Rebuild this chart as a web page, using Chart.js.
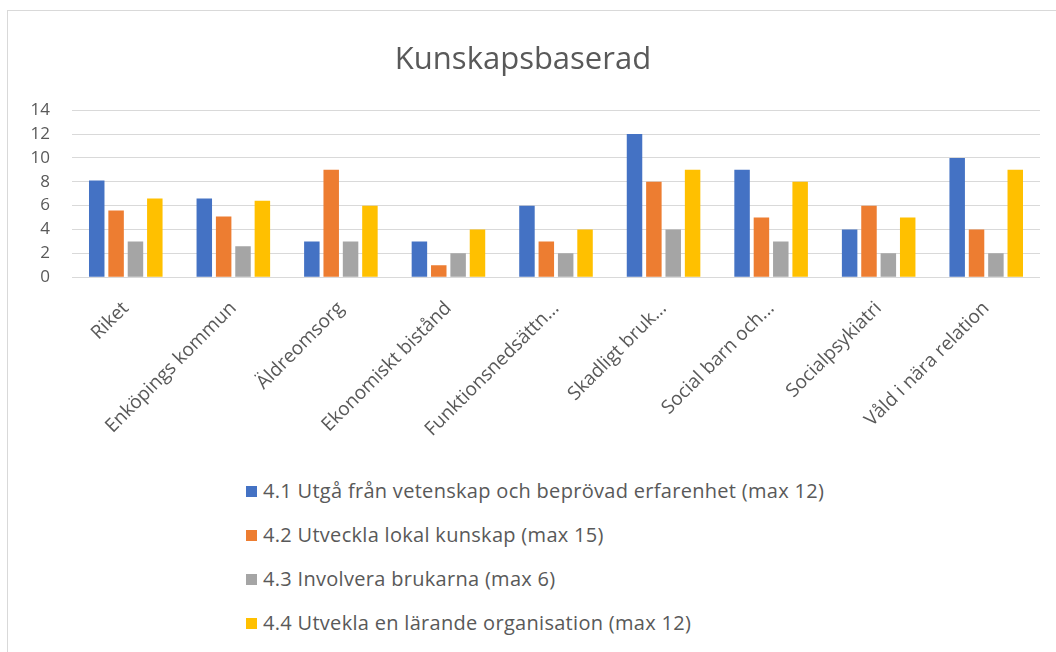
<!DOCTYPE html>
<html lang="sv">
<head>
<meta charset="UTF-8">
<title>Kunskapsbaserad</title>
<script src="https://cdn.jsdelivr.net/npm/chart.js"></script>
<style>
body {
  margin:0;
  background:#fff;
  font-family:"Open Sans", Arial, sans-serif;
}
#frame {
  position:absolute;
  left:7px; top:10px;
  width:1100px; height:700px;
  border:1px solid #d9d9d9;
}
#wrap {
  position:absolute;
  left:0; top:0;
  width:1056px; height:460px;
}
#legend {
  position:absolute;
  left:246px; top:477px;
  color:#595959;
  font-size:20px;
  letter-spacing:0.3px;
}
#legend div {
  height:44px;
  line-height:28px;
}
#legend span.box {
  display:inline-block;
  width:11px; height:11px;
  margin-right:6px;
  vertical-align:1px;
}
</style>
</head>
<body>

<div id="frame"></div>
<div id="wrap"><canvas id="myChart"></canvas></div>
<div id="legend"></div>

<script>
// data
const categories = ["Riket", "Enköpings kommun", "Äldreomsorg", "Ekonomiskt bistånd",
  "Funktionsnedsättn...", "Skadligt bruk...", "Social barn och...", "Socialpsykiatri",
  "Våld i nära relation"];
const seriesNames = [
  "4.1 Utgå från vetenskap och beprövad erfarenhet (max 12)",
  "4.2 Utveckla lokal kunskap (max 15)",
  "4.3 Involvera brukarna (max 6)",
  "4.4 Utvekla en lärande organisation (max 12)"
];
const utga = [8.1, 6.6, 3, 3, 6, 12, 9, 4, 10];
const lokal = [5.6, 5.1, 9, 1, 3, 8, 5, 6, 4];
const involvera = [3, 2.6, 3, 2, 2, 4, 3, 2, 2];
const larande = [6.6, 6.4, 6, 4, 4, 9, 8, 5, 9];
const yTicks = [0, 2, 4, 6, 8, 10, 12, 14];
const colors = ["#4472c4", "#ed7d31", "#a5a5a5", "#ffc000"];

const allSeries = [utga, lokal, involvera, larande];

const ctx = document.getElementById('myChart').getContext('2d');
const myChart = new Chart(ctx, {
  type: 'bar',
  data: {
    labels: categories,
    datasets: allSeries.map((d, i) => ({
      label: seriesNames[i],
      data: d,
      backgroundColor: colors[i],
      borderWidth: 0,
      categoryPercentage: 0.72,
      barPercentage: 0.8
    }))
  },
  options: {
    responsive: true,
    maintainAspectRatio: false,
    animation: false,
    layout: { padding: { left: 6, right: 16, top: 20, bottom: 7 } },
    plugins: {
      legend: { display: false },
      tooltip: { enabled: false },
      title: {
        display: true,
        text: 'Kunskapsbaserad',
        color: '#595959',
        font: { family: '"Open Sans"', size: 31, weight: 'normal' },
        padding: { top: 22, bottom: 31 }
      }
    },
    scales: {
      x: {
        grid: { display: false },
        border: { display: false },
        ticks: {
          color: '#595959',
          font: { family: '"Open Sans"', size: 19 },
          maxRotation: 45,
          minRotation: 45,
          autoSkip: false,
          padding: 12
        }
      },
      y: {
        min: 0,
        max: 14,
        afterBuildTicks: (axis) => { axis.ticks = yTicks.map(v => ({ value: v })); },
        afterFit: (axis) => { axis.width = 66; },
        grid: { color: '#d9d9d9', lineWidth: 1, drawTicks: false },
        border: { display: false },
        ticks: {
          color: '#595959',
          font: { family: '"Open Sans"', size: 17 },
          padding: 22
        }
      }
    }
  }
});

// legend, one entry per row
const legendEl = document.getElementById('legend');
seriesNames.forEach((name, i) => {
  const row = document.createElement('div');
  const box = document.createElement('span');
  box.className = 'box';
  box.style.background = colors[i];
  row.appendChild(box);
  row.appendChild(document.createTextNode(name));
  legendEl.appendChild(row);
});
</script>

</body>
</html>
